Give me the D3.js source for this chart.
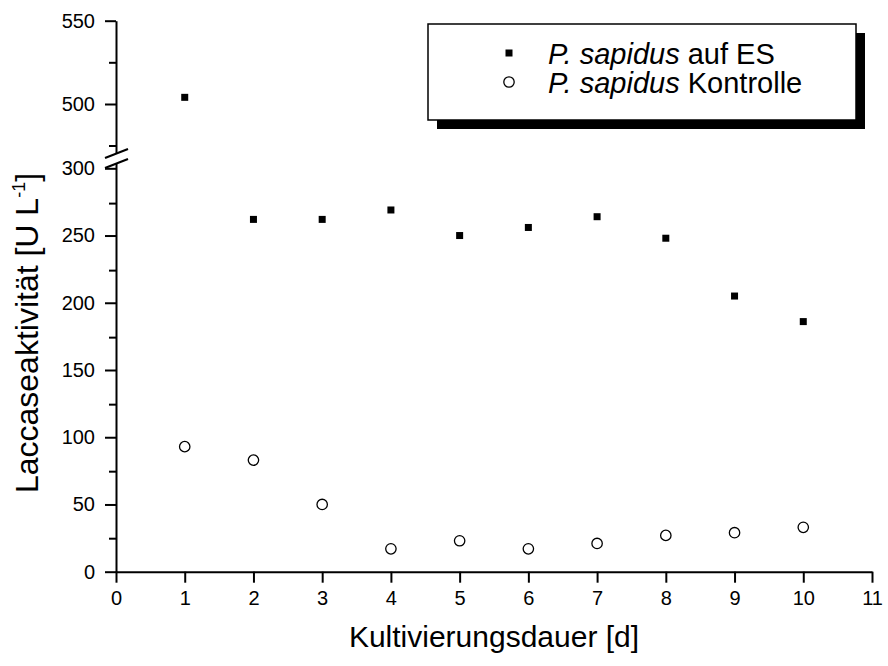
<!DOCTYPE html>
<html>
<head>
<meta charset="utf-8">
<script src="https://cdn.jsdelivr.net/npm/d3@7"></script>
<style>
	body { margin: 0; background: #fff; }
	svg { display: block; font-family: "Liberation Sans", Arial, sans-serif; }
	.axis text { font-size: 20px; fill: #000; }
	.axis line, .axis path { stroke: #000; stroke-width: 2; }
</style>
</head>
<body>
<svg width="888" height="666"></svg>
<script>
// Kultivierungsdauer [d]
const tage = [1, 2, 3, 4, 5, 6, 7, 8, 9, 10];
// Laccaseaktivität [U L-1]
const esWerte = [504, 262, 262, 269, 250, 256, 264, 248, 205, 186];
const kontrolleWerte = [93, 83, 50, 17, 23, 17, 21, 27, 29, 33];

const legendeNamen = ["auf ES", "Kontrolle"];
const xTicks = d3.range(0, 12);
const yTicksUnten = [0, 50, 100, 150, 200, 250, 300];
const yTicksOben = [500, 550];

const svg = d3.select("svg");

const x = d3.scaleLinear().domain([0, 11]).range([116, 872]);
const yUnten = d3.scaleLinear().domain([0, 300]).range([571.7, 168.3]);
const yOben = d3.scaleLinear().domain([500, 550]).range([104, 20.7]);

// y-Wert auf die richtige Achsenhälfte abbilden
const yPos = v => v > 400 ? yOben(v) : yUnten(v);

// x-Achse
const gX = svg.append("g")
	.attr("class", "axis")
	.attr("transform", `translate(0,${yUnten(0)})`);

gX.call(d3.axisBottom(x)
	.tickValues(d3.range(0.5, 11, 1))
	.tickSize(7)
	.tickSizeOuter(0)
	.tickFormat(""));
gX.call(d3.axisBottom(x)
	.tickValues(xTicks)
	.tickSize(11)
	.tickSizeOuter(0)
	.tickPadding(8)
	.tickFormat(d3.format("d")));
gX.selectAll("text").attr("dy", "0.71em");

// y-Achse unten
const gYu = svg.append("g")
	.attr("class", "axis")
	.attr("transform", `translate(${x(0)},0)`);

gYu.append("g").call(d3.axisLeft(yUnten.copy().domain([0, 304.7]).range([571.7, 163.3]))
	.tickValues(d3.range(25, 300, 50))
	.tickSize(7)
	.tickSizeOuter(0)
	.tickFormat(""));
gYu.append("g").call(d3.axisLeft(yUnten)
	.tickValues(yTicksUnten)
	.tickSize(11)
	.tickSizeOuter(0)
	.tickPadding(10)
	.tickFormat(d3.format("d")))
	.select(".domain").remove();

// y-Achse oben
const gYo = svg.append("g")
	.attr("class", "axis")
	.attr("transform", `translate(${x(0)},0)`);

gYo.append("g").call(d3.axisLeft(yOben.copy().domain([470.5, 550]).range([153, 20.7]))
	.tickValues([475, 525])
	.tickSize(7)
	.tickSizeOuter(0)
	.tickFormat(""));
gYo.append("g").call(d3.axisLeft(yOben)
	.tickValues(yTicksOben)
	.tickSize(11)
	.tickSizeOuter(0)
	.tickPadding(10)
	.tickFormat(d3.format("d")))
	.select(".domain").remove();

// Achsenbruch
const bruch = svg.append("g")
	.attr("transform", `translate(${x(0)},0)`)
	.attr("stroke", "#000")
	.attr("stroke-width", 2);
[153.5, 163.5].forEach(m => {
	bruch.append("line")
		.attr("x1", -11).attr("y1", m + 4.5)
		.attr("x2", 12).attr("y2", m - 4.5);
});

// Achsentitel
svg.append("text")
	.attr("x", (x(0) + x(11)) / 2)
	.attr("y", 647)
	.attr("text-anchor", "middle")
	.attr("font-size", 30)
	.text("Kultivierungsdauer [d]");

const yTitel = svg.append("text")
	.attr("transform", "translate(38,333) rotate(-90)")
	.attr("text-anchor", "middle")
	.attr("font-size", 32);
yTitel.append("tspan").text("Laccaseaktivität [U L");
yTitel.append("tspan").attr("font-size", 18).attr("dy", -13).text("-1");
yTitel.append("tspan").attr("dy", 13).text("]");

// Daten
svg.append("g")
	.selectAll("rect")
	.data(tage)
	.join("rect")
	.attr("x", (d, i) => x(d) - 3.5)
	.attr("y", (d, i) => yPos(esWerte[i]) - 3.5)
	.attr("width", 7)
	.attr("height", 7)
	.attr("fill", "#000");

svg.append("g")
	.selectAll("circle")
	.data(tage)
	.join("circle")
	.attr("cx", d => x(d))
	.attr("cy", (d, i) => yPos(kontrolleWerte[i]))
	.attr("r", 5.2)
	.attr("fill", "none")
	.attr("stroke", "#000")
	.attr("stroke-width", 1.3);

// Legende
const leg = svg.append("g").attr("transform", "translate(428,24)");
leg.append("rect")
	.attr("x", 9).attr("y", 9)
	.attr("width", 428).attr("height", 96)
	.attr("fill", "#000");
leg.append("rect")
	.attr("width", 428).attr("height", 96)
	.attr("fill", "#fff")
	.attr("stroke", "#000")
	.attr("stroke-width", 1.5);

legendeNamen.forEach((name, i) => {
	const yy = 29 + i * 29;
	if (i === 0)
		leg.append("rect")
			.attr("x", 81 - 3.5).attr("y", yy - 3.5)
			.attr("width", 7).attr("height", 7)
			.attr("fill", "#000");
	else
		leg.append("circle")
			.attr("cx", 81).attr("cy", yy)
			.attr("r", 5.2)
			.attr("fill", "none")
			.attr("stroke", "#000")
			.attr("stroke-width", 1.3);
	const t = leg.append("text")
		.attr("x", 120)
		.attr("y", yy + 11)
		.attr("font-size", 29);
	t.append("tspan").attr("font-style", "italic").text("P. sapidus");
	t.append("tspan").text(" " + name);
});
</script>
</body>
</html>
